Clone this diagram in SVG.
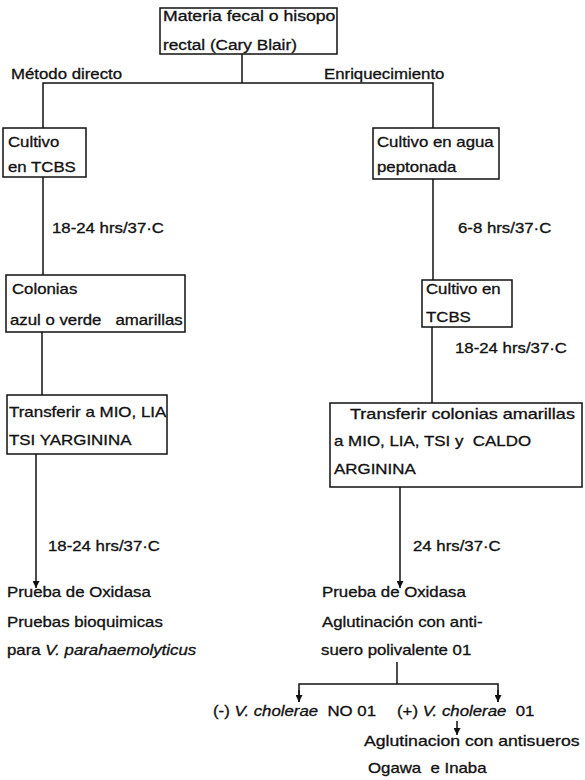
<svg xmlns="http://www.w3.org/2000/svg" width="585" height="780" viewBox="0 0 585 780">
<style>
.t{font-family:"Liberation Sans",Arial,Helvetica,sans-serif;font-size:14px;fill:#111;stroke:#111;stroke-width:0.3;white-space:pre}
.i{font-style:italic}
.b{fill:none;stroke:#111;stroke-width:1.5}
.c{fill:none;stroke:#111;stroke-width:1.5}
</style>
<defs>
<marker id="ah" viewBox="0 0 10 10" refX="10" refY="5" markerWidth="7" markerHeight="7" markerUnits="userSpaceOnUse" orient="auto">
<path d="M0,0 L10,5 L0,10 z" fill="#111"/>
</marker>
</defs>
<rect width="585" height="780" fill="#fff"/>

<g id="connectors">
<polyline class="c" points="242,54 242,83"/>
<polyline class="c" points="43,128 43,83 433,83 433,128"/>
<line class="c" x1="43" y1="177" x2="43" y2="275"/>
<line class="c" x1="433" y1="179" x2="433" y2="280"/>
<line class="c" x1="42" y1="332" x2="42" y2="395"/>
<line class="c" x1="432" y1="327" x2="432" y2="403"/>
<line class="c" x1="36" y1="454" x2="36" y2="588" marker-end="url(#ah)"/>
<line class="c" x1="400" y1="487" x2="400" y2="588" marker-end="url(#ah)"/>
<polyline class="c" points="397,662 397,684"/>
<polyline class="c" points="299,702 299,684 498,684 498,702"/>
<line class="c" x1="299" y1="690" x2="299" y2="702" marker-end="url(#ah)"/>
<line class="c" x1="498" y1="690" x2="498" y2="702" marker-end="url(#ah)"/>
<line class="c" x1="457" y1="721" x2="457" y2="735" marker-end="url(#ah)"/>
<text class="t" transform="translate(11,79) scale(1.2,1)">Método directo</text>
<text class="t" transform="translate(324,79) scale(1.2,1)">Enriquecimiento</text>
<text class="t" transform="translate(52,233) scale(1.2,1)">18-24 hrs/37·C</text>
<text class="t" transform="translate(458,233) scale(1.2,1)">6-8 hrs/37·C</text>
<text class="t" transform="translate(455,353) scale(1.2,1)">18-24 hrs/37·C</text>
<text class="t" transform="translate(48,551) scale(1.2,1)">18-24 hrs/37·C</text>
<text class="t" transform="translate(413,551) scale(1.2,1)">24 hrs/37·C</text>
</g>

<g id="n-muestra">
<rect class="b" x="160" y="8" width="177" height="46"/>
<text class="t" transform="translate(163,21) scale(1.26,1)">Materia fecal o hisopo</text>
<text class="t" transform="translate(163,50) scale(1.23,1)">rectal (Cary Blair)</text>
</g>

<g id="n-cultivo-tcbs">
<rect class="b" x="3" y="128" width="83" height="49"/>
<text class="t" transform="translate(8,147) scale(1.2,1)">Cultivo</text>
<text class="t" transform="translate(8,172) scale(1.2,1)">en TCBS</text>
</g>

<g id="n-cultivo-agua">
<rect class="b" x="373" y="128" width="126" height="51"/>
<text class="t" transform="translate(377,147) scale(1.2,1)">Cultivo en agua</text>
<text class="t" transform="translate(377,172) scale(1.2,1)">peptonada</text>
</g>

<g id="n-colonias">
<rect class="b" x="6" y="275" width="179" height="57"/>
<text class="t" transform="translate(12,294) scale(1.2,1)">Colonias</text>
<text class="t" transform="translate(10,325) scale(1.2,1)">azul o verde   amarillas</text>
</g>

<g id="n-cultivo-tcbs2">
<rect class="b" x="422" y="280" width="90" height="47"/>
<text class="t" transform="translate(426,294) scale(1.2,1)">Cultivo en</text>
<text class="t" transform="translate(426,322) scale(1.2,1)">TCBS</text>
</g>

<g id="n-transferir-izq">
<rect class="b" x="7" y="395" width="160" height="59"/>
<text class="t" transform="translate(9,417) scale(1.21,1)">Transferir a MIO, LIA</text>
<text class="t" transform="translate(9,445) scale(1.21,1)">TSI YARGININA</text>
</g>

<g id="n-transferir-der">
<rect class="b" x="330" y="403" width="252" height="84"/>
<text class="t" transform="translate(350,419) scale(1.29,1)">Transferir colonias amarillas</text>
<text class="t" transform="translate(334,446) scale(1.21,1)">a MIO, LIA, TSI y  CALDO</text>
<text class="t" transform="translate(334,474) scale(1.21,1)">ARGININA</text>
</g>

<g id="n-resultado-izq">
<text class="t" transform="translate(7,597) scale(1.2,1)">Prueba de Oxidasa</text>
<text class="t" transform="translate(7,627) scale(1.2,1)">Pruebas bioquimicas</text>
<text class="t" transform="translate(7,655) scale(1.2,1)">para <tspan class="i">V. parahaemolyticus</tspan></text>
</g>

<g id="n-resultado-der">
<text class="t" transform="translate(322,597) scale(1.2,1)">Prueba de Oxidasa</text>
<text class="t" transform="translate(322,627) scale(1.2,1)">Aglutinación con anti-</text>
<text class="t" transform="translate(321,655) scale(1.2,1)">suero polivalente 01</text>
</g>

<g id="n-negativo">
<text class="t" transform="translate(213,716) scale(1.2,1)">(-) <tspan class="i">V. cholerae</tspan>  NO 01</text>
</g>

<g id="n-positivo">
<text class="t" transform="translate(397,716) scale(1.2,1)">(+) <tspan class="i">V. cholerae</tspan>  01</text>
</g>

<g id="n-serotipo">
<text class="t" transform="translate(364,746) scale(1.26,1)">Aglutinacion con antisueros</text>
<text class="t" transform="translate(368,773) scale(1.2,1)">Ogawa  e Inaba</text>
</g>
</svg>
